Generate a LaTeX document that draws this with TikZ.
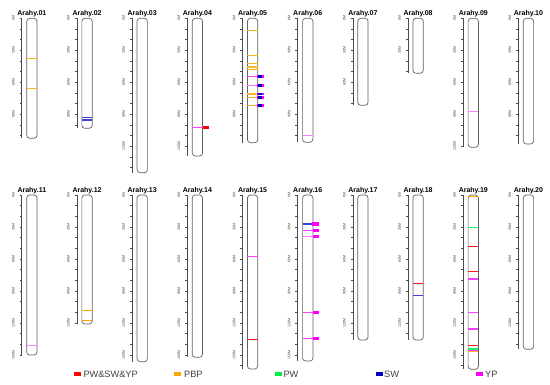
\documentclass[tikz,border=0pt]{standalone}
\usepackage{fontspec}
\setmainfont{Liberation Sans}
\definecolor{cPBP}{HTML}{FFA500}
\definecolor{cSW}{HTML}{0000CD}
\definecolor{cYP}{HTML}{FF00FF}
\definecolor{cPW}{HTML}{00EE44}
\definecolor{cRed}{HTML}{FF0000}
\newcommand\mline[3]{\pgfmathsetmacro\xa{26.7+55.18*(#1-1)}\draw[#3] (\xa,#2) -- ({\xa+10.3},#2);}
\newcommand\mrect[5]{\pgfmathsetmacro\xa{26.7+55.18*(#1-1)+10.3}\fill[#3] ({\xa+(#4)},{#2-1.3}) rectangle ({\xa+(#5)},{#2+1.3});}
\begin{document}
\begin{tikzpicture}[x=1pt,y=-1pt,
  chr/.style={draw=black!62, line width=0.7pt, rounded corners=3pt, fill=white, minimum width=10.3pt, inner sep=0pt, outer sep=0pt},
  title/.style={font=\fontsize{7}{8}\selectfont\bfseries, inner sep=0pt},
  ticklab/.style={font=\fontsize{3.6}{4}\selectfont, text=black!75, rotate=90, inner sep=0pt},
  axisln/.style={draw=black!70, line width=0.55pt},
  lPBP/.style={draw=cPBP!85, line width=1.5pt},
  sPBP/.style={draw=cPBP, line width=1.5pt},
  lSW/.style={draw=cSW!75, line width=1.5pt},
  lYP/.style={draw=cYP!75, line width=1.5pt},
  pYP/.style={draw=cYP!50, line width=1pt},
  lRed/.style={draw=cRed!90, line width=1.5pt},
  lPW/.style={draw=cPW!85, line width=1.6pt},
  leg/.style={font=\fontsize{9.2}{10}\selectfont, text=black!75, inner sep=0pt}]
\useasboundingbox (0,0) rectangle (550,385);
\foreach \nm/\cl/\tp/\lg in {01/1/18.3/120, 02/2/18.3/110, 03/3/18.3/154.4, 04/4/18.3/137.7, 05/5/18.3/124.4,
  06/6/18.3/124, 07/7/18.3/87, 08/8/18.3/55, 09/9/18.3/129, 10/10/18.3/125.7,
  11/1/195/160, 12/2/195/129, 13/3/195/166.7, 14/4/195/162.3, 15/5/195/174,
  16/6/195/166, 17/7/195/145, 18/8/195/145, 19/9/195/174.3, 20/10/195/154.3} {
  \pgfmathsetmacro\xl{26.7+55.18*(\cl-1)}
  \pgfmathsetmacro\ax{\xl-5}
  \pgfmathtruncatemacro\nt{floor(\lg/10.6667+0.02)}
  \draw[axisln] (\ax,\tp) -- (\ax,{\tp+\lg});
  \foreach \k in {0,...,\nt} \draw[axisln] ({\ax-2.2},{\tp+\k*10.6667}) -- (\ax,{\tp+\k*10.6667});
  \foreach \k in {0,3,...,\nt} {\pgfmathtruncatemacro\mm{\k*10}
    \node[ticklab] at ({\ax-8.4},{\tp+\k*10.6667}) {\mm M};}
  \node[chr, minimum height=\lg pt, anchor=north west] (c\nm) at (\xl,\tp) {};
  \node[title, anchor=base] (t\nm) at ({\xl+5.15},{\tp-2.5}) {Arahy.\nm};
}
% Arahy.01
\mline{1}{58.5}{lPBP} \mline{1}{88.5}{lPBP}
% Arahy.02
\mline{2}{117.5}{lSW} \mline{2}{120}{lSW}
% Arahy.04
\mline{4}{127.5}{lYP} \mrect{4}{127.5}{cRed}{0.3}{6.3}
% Arahy.05
\mline{5}{30.5}{lPBP} \mline{5}{55.5}{lPBP} \mline{5}{63.5}{lPBP} \mline{5}{66.8}{lPBP} \mline{5}{69.5}{lPBP}
\mline{5}{76.5}{lYP} \mline{5}{85.5}{pYP, line width=1.4pt}
\mline{5}{94}{lPBP} \mline{5}{97.5}{lPBP} \mline{5}{105.5}{lPBP}
\foreach \yy in {76.5,85.5,94,97.5,105.5} {\mrect{5}{\yy}{cYP}{-1}{6.6} \mrect{5}{\yy}{cSW}{0.6}{4}}
% Arahy.06, 09
\mline{6}{135.5}{pYP} \mline{9}{111.5}{pYP}
% Arahy.11
\mline{1}{345.5}{pYP}
% Arahy.12
\mline{2}{310.5}{sPBP} \mline{2}{320.5}{sPBP}
% Arahy.15
\mline{5}{256.5}{lYP, line width=1.8pt} \mline{5}{339.5}{lRed}
% Arahy.16
\mline{6}{224}{lSW} \mline{6}{230.5}{lYP} \mline{6}{236.5}{pYP, line width=1.4pt} \mline{6}{312.5}{lYP} \mline{6}{338.5}{lYP}
\fill[cYP] (312.4,222.3) rectangle (319,225.7);
\foreach \yy in {230.5,236.5,312.5,338.5} {\mrect{6}{\yy}{cYP}{0}{6.3}}
% Arahy.18
\mline{8}{283.5}{lRed} \mline{8}{295.5}{lSW}
% Arahy.19
\mline{9}{196.5}{sPBP} \mline{9}{227.5}{lPW} \mline{9}{246.5}{lRed} \mline{9}{271.5}{lRed}
\mline{9}{279}{lYP, line width=1.8pt} \mline{9}{312.5}{lYP} \mline{9}{329}{lYP, line width=1.6pt}
\mline{9}{345.5}{lRed} \mline{9}{349.3}{lPW} \mline{9}{350.6}{lYP} \mline{9}{351.7}{lPBP}
% legend
\fill[cRed] (74,371.6) rectangle (81,376.2);
\node[leg, anchor=west] (l1) at (83.3,374) {PW\&SW\&YP};
\fill[cPBP] (174.3,371.6) rectangle (181.3,376.2);
\node[leg, anchor=west] (l2) at (184,374) {PBP};
\fill[cPW] (275,371.6) rectangle (282,376.2);
\node[leg, anchor=west] (l3) at (283.3,374) {PW};
\fill[cSW] (375.7,371.6) rectangle (382.7,376.2);
\node[leg, anchor=west] (l4) at (384,374) {SW};
\fill[cYP] (475.7,371.6) rectangle (482.7,376.2);
\node[leg, anchor=west] (l5) at (485,374) {YP};
\end{tikzpicture}
\end{document}
